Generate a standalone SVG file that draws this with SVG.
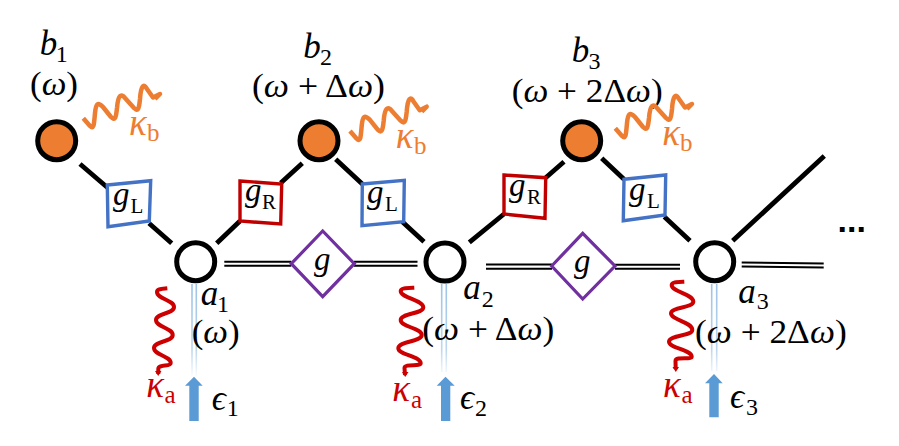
<svg xmlns="http://www.w3.org/2000/svg" width="899" height="446" viewBox="0 0 899 446">
<style>
text{font-family:"Liberation Serif","DejaVu Serif",serif;fill:#000}
.m{font-size:35px;font-style:italic}
.p{font-size:33px}
.s{font-size:24px;font-style:normal}
.ko{fill:#ED7D31}
.kr{fill:#CC0000}
.k{font-size:37px;font-style:italic}
.ks{font-size:25px;font-style:normal}
.gm{font-size:33px;font-style:italic}
.gs{font-size:21px;font-style:normal}
.w{stroke:#000;stroke-width:4.800;fill:none}
.d{stroke:#000;stroke-width:2;fill:none}
.nb{fill:#ED7D31;stroke:#000;stroke-width:5}
.na{fill:#fff;stroke:#000;stroke-width:5}
.bl{fill:#fff;stroke:#4472C4;stroke-width:3.400}
.rd{fill:#fff;stroke:#C00000;stroke-width:3.400}
.pu{fill:#fff;stroke:#7030A0;stroke-width:3.200}
.wo{fill:none;stroke:#ED7D31;stroke-width:4.500;stroke-linejoin:round}
.wr{fill:none;stroke:#CC0000;stroke-width:4;stroke-linejoin:round}
.ar{fill:#5B9BD5}
.f{stroke-width:1.600;fill:none}
</style>
<defs>
<linearGradient id="fade" x1="0" y1="0" x2="0" y2="1"><stop offset="0" stop-color="#9DC3E6"/><stop offset="0.7" stop-color="#BDD7EE"/><stop offset="1" stop-color="#fff"/></linearGradient>
<path id="wave-b" class="wo" d="M83.300 118.300L90 126C94 130 94 124 95 113C96 103 98 102 103 107L111 117C115 121 116 118 117 108C118 95 121 93 125 98L134 108C138 112 139 109 140 99C141 85 144 83 147 89L153 97.500L160 94L155 99"/>
</defs>
<g id="connectors">
<path class="w" d="M80 164L108 188M149 223.300L171.700 243.300M216.700 243.300L240 221M280.700 183L302.300 163.300M335.700 159.300L362.300 184M402.300 221.700L424 241.700M469.300 242.300L504 214M545.700 177.700L564 161.700M601.700 158.300L624 179.300M664.300 216.700L690 240.700M732.700 240.700L824.300 156"/>
<path class="d" d="M224.300 261.700H291.300M224.300 265.700H291.300M354 261.700H417.500M354 265.700H417.500M486 264.500H552M486 268.700H552M615 264.800H680M615 268.800H680M741.700 262.400L823.700 263.500M741.700 266.600L823.700 267.500"/>
<path stroke="url(#fade)" class="f" d="M192 284L192.010 378M196.300 284L196.310 378M441.700 284L441.710 372M446.300 284L446.310 372M711.700 284L711.710 371M716.700 284L716.710 371"/>
</g>
<g id="b1"><circle class="nb" cx="56.700" cy="140.700" r="19"/>
<text class="m" x="39.700" y="55">b<tspan class="s" x="55.700" y="61.700">1</tspan></text>
<text class="p" x="30" y="95" textLength="48" lengthAdjust="spacingAndGlyphs">(<tspan font-style="italic">ω</tspan>)</text></g>
<g id="b2"><circle class="nb" cx="319" cy="140.700" r="19"/>
<text class="m" x="303.300" y="58">b<tspan class="s" x="320" y="64.700">2</tspan></text>
<text class="p" x="252" y="97" textLength="133" lengthAdjust="spacingAndGlyphs">(<tspan font-style="italic">ω</tspan> + Δ<tspan font-style="italic">ω</tspan>)</text></g>
<g id="b3"><circle class="nb" cx="581.700" cy="140.700" r="19"/>
<text class="m" x="571.700" y="62">b<tspan class="s" x="588.500" y="68.500">3</tspan></text>
<text class="p" x="511.700" y="101.700" textLength="151" lengthAdjust="spacingAndGlyphs">(<tspan font-style="italic">ω</tspan> + 2Δ<tspan font-style="italic">ω</tspan>)</text></g>
<g id="a1"><circle class="na" cx="195.700" cy="261.700" r="19"/>
<text class="m" x="200.700" y="305">a<tspan class="s" x="217" y="311.700">1</tspan></text>
<text class="p" x="191.700" y="343.300" textLength="48" lengthAdjust="spacingAndGlyphs">(<tspan font-style="italic">ω</tspan>)</text></g>
<g id="a2"><circle class="na" cx="445" cy="262" r="19"/>
<text class="m" x="463.300" y="299.300">a<tspan class="s" x="481.700" y="306.700">2</tspan></text>
<text class="p" x="422.300" y="340" textLength="132" lengthAdjust="spacingAndGlyphs">(<tspan font-style="italic">ω</tspan> + Δ<tspan font-style="italic">ω</tspan>)</text></g>
<g id="a3"><circle class="na" cx="714.700" cy="261.700" r="19"/>
<text class="m" x="738.300" y="302.700">a<tspan class="s" x="756.700" y="309.300">3</tspan></text>
<text class="p" x="695" y="342.700" textLength="151.700" lengthAdjust="spacingAndGlyphs">(<tspan font-style="italic">ω</tspan> + 2Δ<tspan font-style="italic">ω</tspan>)</text></g>
<g id="gL1"><polygon class="bl" points="107.300,185 150.700,180.700 149.300,221 108,226.700"/><text class="gm" x="113" y="205">g<tspan class="gs" x="130.500" y="212.500">L</tspan></text></g>
<g id="gR1"><polygon class="rd" points="240,181 281.700,184 280.700,224 240,221"/><text class="gm" x="245" y="201">g<tspan class="gs" x="262" y="208.500">R</tspan></text></g>
<g id="gL2"><polygon class="bl" points="362.300,184 404.300,180.300 403.700,221.700 362,225.700"/><text class="gm" x="367" y="203">g<tspan class="gs" x="385" y="211">L</tspan></text></g>
<g id="gR2"><polygon class="rd" points="504,175 545.700,177.700 545,218.300 504,214"/><text class="gm" x="509" y="196">g<tspan class="gs" x="527" y="204">R</tspan></text></g>
<g id="gL3"><polygon class="bl" points="624,179.300 665.700,175 665,215 623.300,220.700"/><text class="gm" x="629" y="200">g<tspan class="gs" x="647" y="208">L</tspan></text></g>
<g id="g1"><polygon class="pu" points="291.300,263.700 322.700,231 354.300,263.700 322.700,296.700"/><text class="gm" x="314" y="270">g</text></g>
<g id="g2"><polygon class="pu" points="551.700,266 582.700,233.300 615,266 582.700,299"/><text class="gm" x="574" y="272">g</text></g>
<g id="kappa-b1"><use href="#wave-b"/><text class="k ko" x="129" y="135">κ<tspan class="ks" x="147" y="141" fill="#ED7D31">b</tspan></text></g>
<g id="kappa-b2"><use href="#wave-b" x="266.700" y="12.700"/><text class="k ko" x="395.700" y="147.700">κ<tspan class="ks" x="414" y="154" fill="#ED7D31">b</tspan></text></g>
<g id="kappa-b3"><use href="#wave-b" x="532" y="10"/><text class="k ko" x="662.300" y="145">κ<tspan class="ks" x="680" y="151" fill="#ED7D31">b</tspan></text></g>
<g id="kappa-a1"><path class="wr" d="M167.300 288.300C161 289 157 289 157 292C157 299 174 300 174 307C174 314 156 313 156 320C156 327 172.700 328 172.700 335C172.700 342 154 341 154 348C154 355 170.700 356 170.700 363C170.700 367 158.300 364 158.300 369V374"/><path class="kr" d="M155 371L161.500 371L158.200 376Z"/><text class="k kr" x="146.300" y="396.700">κ<tspan class="ks" x="164.500" y="403" fill="#CC0000">a</tspan></text></g>
<g id="kappa-a2"><path class="wr" d="M414.300 287.700C407 288 400.700 288 400.700 291C400.700 298 423.300 300 423.300 307.300C423.300 314 400.700 313 400.700 320C400.700 327 421.700 328 421.700 335C421.700 342 398.300 341 398.300 348.300C398.300 355 420.700 356 420.700 363.300C420.700 367 404.500 363 404.500 368L405 375"/><path class="kr" d="M402 372L408.500 372L405.200 377Z"/><text class="k kr" x="392.300" y="401">κ<tspan class="ks" x="411" y="407.500" fill="#CC0000">a</tspan></text></g>
<g id="kappa-a3"><path class="wr" d="M684.300 281.700C677 282 671.700 282 671.700 285C671.700 292 693.300 294 693.300 301.700C693.300 308 671 307 671 313.300C671 320 692.300 322 692.300 330C692.300 336 669 335 669 341.700C669 348 691.700 350 691.700 356.700C691.700 360 675.500 356 675.500 361L675.700 369"/><path class="kr" d="M672.500 367L679 367L675.800 372Z"/><text class="k kr" x="663" y="396.700">κ<tspan class="ks" x="681.500" y="403" fill="#CC0000">a</tspan></text></g>
<g id="e1"><polygon class="ar" points="194,376.700 202.700,385.700 198.700,385.700 198.700,421 189.300,421 189.300,385.700 185,385.700"/><text class="m" x="211.700" y="410">ϵ<tspan class="s" x="226.700" y="415.700">1</tspan></text></g>
<g id="e2"><polygon class="ar" points="445.500,376.700 454.700,385.700 450.300,385.700 450.300,421 441,421 441,385.700 436.700,385.700"/><text class="m" x="460" y="409.300">ϵ<tspan class="s" x="475" y="415.700">2</tspan></text></g>
<g id="e3"><polygon class="ar" points="714,374 722.700,383.300 718.700,383.300 718.700,417.300 709.300,417.300 709.300,383.300 705,383.300"/><text class="m" x="730" y="408.300">ϵ<tspan class="s" x="746" y="415">3</tspan></text></g>
<text x="837.500" y="232" font-size="34" font-weight="bold" style="font-family:'Liberation Sans',sans-serif">...</text>
</svg>
